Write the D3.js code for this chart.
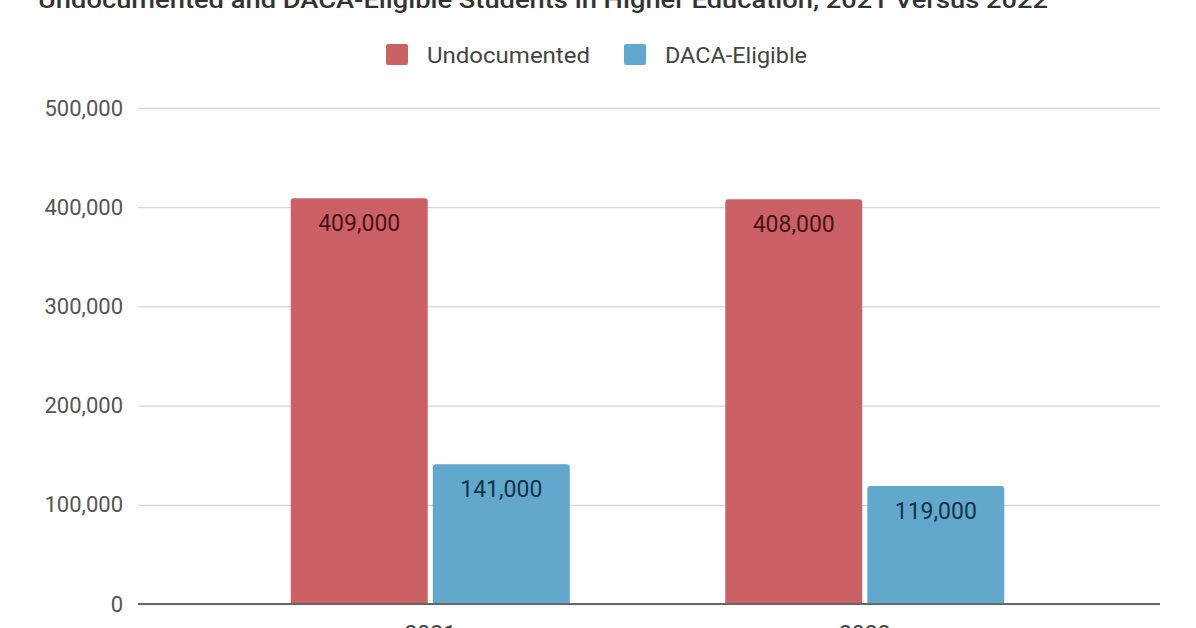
<!DOCTYPE html>
<html>
<head>
<meta charset="utf-8">
<title>Undocumented and DACA-Eligible Students</title>
<script src="https://d3js.org/d3.v7.min.js"></script>
<style>
  body { margin: 0; background: #fff; }
  svg { display: block; font-family: Roboto, "Noto Sans", sans-serif; }
</style>
</head>
<body>
<script>
// data
var years = ["2021", "2022"];
var seriesNames = ["Undocumented", "DACA-Eligible"];
var undocumented = [409000, 408000];
var dacaEligible = [141000, 119000];
var yTicks = [0, 100000, 200000, 300000, 400000, 500000];
var colors = ["#cc6165", "#62a8cc"];
var labelColors = ["#4a1416", "#14324a"];

var W = 1196, H = 628;
var svg = d3.select("body").append("svg").attr("width", W).attr("height", H);

var gridLeft = 138, gridRight = 1160;

var x = d3.scaleBand().domain(years).range([213, 1082]).paddingInner(0).paddingOuter(0);
var y = d3.scaleLinear().domain([0, 500000]).range([604, 108]);
var xs = d3.scaleBand().domain(seriesNames).range([0, 279]).paddingInner(0.036);

// title (cut off at top in the original)
svg.append("text")
  .attr("x", 38).attr("y", 8)
  .attr("font-size", 24).attr("font-weight", 500)
  .attr("fill", "#333")
  .attr("textLength", 1010).attr("lengthAdjust", "spacingAndGlyphs")
  .text("Undocumented and DACA-Eligible Students in Higher Education, 2021 Versus 2022");

// legend
var legend = [{name: seriesNames[0], x: 386, tx: 427, w: 163}, {name: seriesNames[1], x: 624, tx: 665, w: 142}];
legend.forEach(function(d, i) {
  svg.append("rect").attr("x", d.x).attr("y", 44).attr("width", 22).attr("height", 21)
    .attr("rx", 2).attr("fill", colors[i]);
  svg.append("text").attr("x", d.tx).attr("y", 63).attr("font-size", 22.5).attr("fill", "#444")
    .attr("textLength", d.w).attr("lengthAdjust", "spacingAndGlyphs")
    .text(d.name);
});

// gridlines + y labels
var yAxis = d3.axisLeft(y).tickValues(yTicks).tickSize(-(gridRight - gridLeft))
  .tickPadding(15).tickFormat(d3.format(","));
var ga = svg.append("g").attr("transform", "translate(" + gridLeft + ",0)").call(yAxis);
ga.select(".domain").remove();
ga.selectAll(".tick line").attr("stroke", "#d6d6d6").attr("stroke-width", 1.3);
ga.selectAll(".tick text").attr("font-size", 22).attr("fill", "#555")
  .attr("font-family", "Roboto, sans-serif");

// bars
var rows = years.map(function(yr, i) {
  return [{year: yr, s: 0, v: undocumented[i]}, {year: yr, s: 1, v: dacaEligible[i]}];
});
var flat = [].concat.apply([], rows);

var bx = function(d) { return x(d.year) + (x.bandwidth() - 279) / 2 + xs(seriesNames[d.s]); };

svg.append("g").selectAll("path").data(flat).enter().append("path")
  .attr("fill", function(d) { return colors[d.s]; })
  .attr("d", function(d) {
    var x0 = bx(d), w = xs.bandwidth(), t = y(d.v), b = y(0), r = 3;
    return "M" + x0 + "," + b + "V" + (t + r) + "Q" + x0 + "," + t + " " + (x0 + r) + "," + t +
      "H" + (x0 + w - r) + "Q" + (x0 + w) + "," + t + " " + (x0 + w) + "," + (t + r) + "V" + b + "Z";
  });

// value labels
svg.append("g").selectAll("text").data(flat).enter().append("text")
  .attr("x", function(d) { return bx(d) + xs.bandwidth() / 2; })
  .attr("y", function(d) { return y(d.v) + 33; })
  .attr("text-anchor", "middle").attr("font-size", 23)
  .attr("fill", function(d) { return labelColors[d.s]; })
  .text(function(d) { return d3.format(",")(d.v); });

// baseline
svg.append("line").attr("x1", gridLeft).attr("x2", gridRight)
  .attr("y1", y(0)).attr("y2", y(0)).attr("stroke", "#666").attr("stroke-width", 2);

// x labels
var xAxis = d3.axisBottom(x).tickSize(0).tickPadding(22);
var gx = svg.append("g").attr("transform", "translate(0," + y(0) + ")").call(xAxis);
gx.select(".domain").remove();
gx.selectAll("text").attr("font-size", 23).attr("fill", "#444")
  .attr("font-family", "Roboto, sans-serif");
</script>
</body>
</html>
